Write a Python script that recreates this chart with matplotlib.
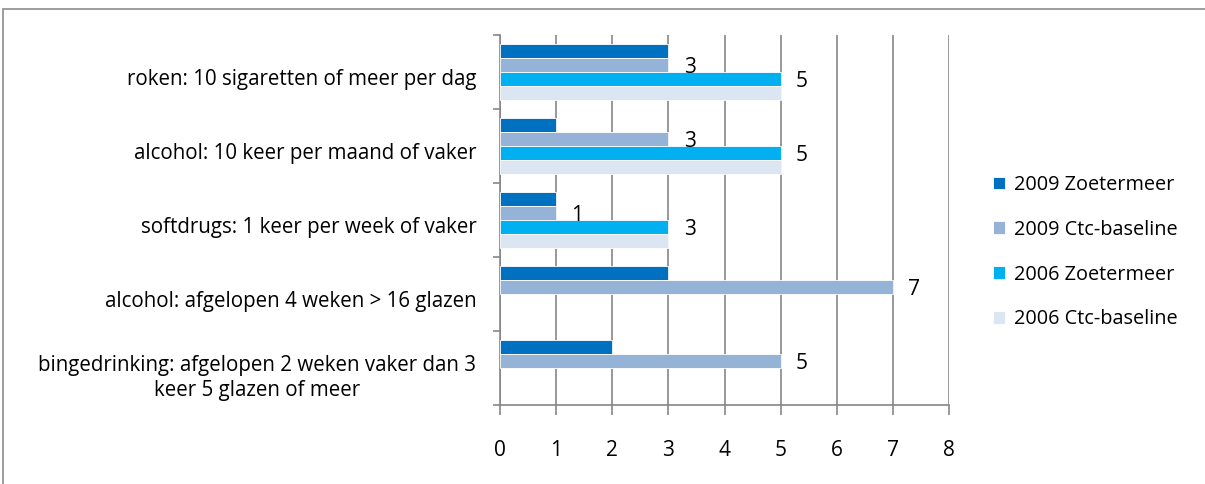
import matplotlib.pyplot as plt
import matplotlib.patches as mpatches
import numpy as np

categories = [
    "roken: 10 sigaretten of meer per dag",
    "alcohol: 10 keer per maand of vaker",
    "softdrugs: 1 keer per week of vaker",
    "alcohol: afgelopen 4 weken > 16 glazen",
    "bingedrinking: afgelopen 2 weken vaker dan 3\nkeer 5 glazen of meer",
]
series = ["2009 Zoetermeer", "2009 Ctc-baseline", "2006 Zoetermeer", "2006 Ctc-baseline"]
values = [
    [3, 1, 1, 3, 2],               # 2009 Zoetermeer
    [3, 3, 1, 7, 5],               # 2009 Ctc-baseline
    [5, 5, 3, np.nan, np.nan],     # 2006 Zoetermeer
    [5, 5, 3, np.nan, np.nan],     # 2006 Ctc-baseline
]
colors = ["#0070C0", "#95B3D7", "#00B0F0", "#DCE6F2"]
labelled = [1, 2]  # series with data labels

plt.rcParams['font.family'] = ['Open Sans', 'DejaVu Sans']

fig = plt.figure(figsize=(12.05, 4.84), dpi=100)
ax = fig.add_axes([0.415, 0.1632, 0.3727, 0.7645])

# outer chart frame
fig.patches.append(mpatches.Rectangle((0.0025, -0.1), 1.2, 1.0814, transform=fig.transFigure,
                                      fill=False, edgecolor="#8c8c8c", linewidth=1.2))

y = np.arange(len(categories))
h = 0.19
for j, (name, vals, c) in enumerate(zip(series, values, colors)):
    pos = y + (j - 1.5) * h
    ax.barh(pos, vals, height=h, color=c, edgecolor="white", linewidth=0.6, label=name, zorder=3)
    if j in labelled:
        for p, v in zip(pos, vals):
            if not np.isnan(v):
                ax.text(v + 0.27, p + 0.03, "%d" % v, va="center", ha="left", fontsize=15, zorder=4)

ax.set_xlim(0, 8)
ax.set_ylim(4.5, -0.5)
ax.set_xticks(range(9))
# category labels sit a little below the group centre
ax.set_yticks(y + 0.07)
ax.set_yticklabels(categories, fontsize=14.8, multialignment="center", linespacing=1.25)
ax.set_yticks(np.arange(-0.5, 5, 1), minor=True)
ax.tick_params(axis="y", which="major", length=0, pad=17)
ax.tick_params(axis="y", which="minor", length=5, color="#868686", width=1.2)
ax.tick_params(axis="x", length=7, color="#868686", width=1.2, labelsize=15, pad=18)

ax.grid(axis="x", color="#868686", linewidth=1.2, zorder=0)
for s in ["top", "right"]:
    ax.spines[s].set_visible(False)
for s in ["left", "bottom"]:
    ax.spines[s].set_color("#868686")
    ax.spines[s].set_linewidth(1.2)

handles, labels = ax.get_legend_handles_labels()
fig.legend(handles, labels, loc="center left", bbox_to_anchor=(0.809, 0.479), frameon=False,
           fontsize=14.3, handlelength=0.6, handleheight=0.6, handletextpad=0.45, labelspacing=1.25)

plt.savefig("out.png", dpi=100)
